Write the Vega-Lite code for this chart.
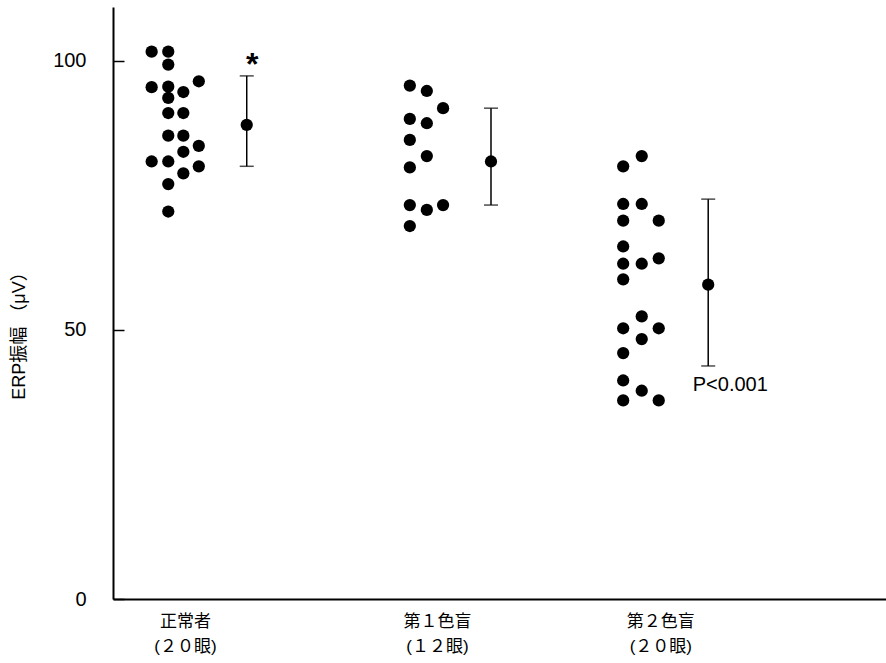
{
  "$schema": "https://vega.github.io/schema/vega-lite/v6.json",
  "width": 773,
  "height": 592,
  "autosize": {"type": "none"},
  "padding": {"left": 113, "top": 7, "right": 0, "bottom": 64},
  "background": "white",
  "config": {
    "view": {"stroke": null},
    "font": "Liberation Sans, Noto Sans CJK JP",
    "axis": {"grid": false, "domainColor": "black", "domainWidth": 2, "tickColor": "black", "labelColor": "black", "titleColor": "black", "labelFont": "Liberation Sans, Noto Sans CJK JP", "titleFont": "Liberation Sans, Noto Sans CJK JP"}
  },
  "datasets": {
    "dots": [
      {"group": "正常者", "pos": 0.50, "value": 101.7},
      {"group": "正常者", "pos": 0.715, "value": 101.7},
      {"group": "正常者", "pos": 0.715, "value": 99.3},
      {"group": "正常者", "pos": 0.50, "value": 95.1},
      {"group": "正常者", "pos": 0.715, "value": 95.2},
      {"group": "正常者", "pos": 0.715, "value": 93.1},
      {"group": "正常者", "pos": 0.91, "value": 94.2},
      {"group": "正常者", "pos": 1.11, "value": 96.2},
      {"group": "正常者", "pos": 0.715, "value": 90.3},
      {"group": "正常者", "pos": 0.91, "value": 90.3},
      {"group": "正常者", "pos": 0.715, "value": 86.1},
      {"group": "正常者", "pos": 0.91, "value": 86.1},
      {"group": "正常者", "pos": 0.91, "value": 83.1},
      {"group": "正常者", "pos": 1.11, "value": 84.2},
      {"group": "正常者", "pos": 0.50, "value": 81.3},
      {"group": "正常者", "pos": 0.715, "value": 81.3},
      {"group": "正常者", "pos": 0.91, "value": 79.1},
      {"group": "正常者", "pos": 1.11, "value": 80.4},
      {"group": "正常者", "pos": 0.715, "value": 77.1},
      {"group": "正常者", "pos": 0.715, "value": 72.0},
      {"group": "第1色盲", "pos": 3.84, "value": 95.4},
      {"group": "第1色盲", "pos": 4.06, "value": 94.4},
      {"group": "第1色盲", "pos": 4.27, "value": 91.2},
      {"group": "第1色盲", "pos": 3.84, "value": 89.2},
      {"group": "第1色盲", "pos": 4.06, "value": 88.4},
      {"group": "第1色盲", "pos": 3.84, "value": 85.3},
      {"group": "第1色盲", "pos": 4.06, "value": 82.3},
      {"group": "第1色盲", "pos": 3.84, "value": 80.2},
      {"group": "第1色盲", "pos": 3.84, "value": 73.2},
      {"group": "第1色盲", "pos": 4.06, "value": 72.3},
      {"group": "第1色盲", "pos": 4.27, "value": 73.2},
      {"group": "第1色盲", "pos": 3.84, "value": 69.3},
      {"group": "第2色盲", "pos": 6.60, "value": 80.4},
      {"group": "第2色盲", "pos": 6.84, "value": 82.3},
      {"group": "第2色盲", "pos": 6.60, "value": 73.4},
      {"group": "第2色盲", "pos": 6.84, "value": 73.4},
      {"group": "第2色盲", "pos": 6.60, "value": 70.3},
      {"group": "第2色盲", "pos": 7.06, "value": 70.3},
      {"group": "第2色盲", "pos": 6.60, "value": 65.5},
      {"group": "第2色盲", "pos": 6.60, "value": 62.3},
      {"group": "第2色盲", "pos": 6.84, "value": 62.3},
      {"group": "第2色盲", "pos": 7.06, "value": 63.3},
      {"group": "第2色盲", "pos": 6.60, "value": 59.4},
      {"group": "第2色盲", "pos": 6.84, "value": 52.5},
      {"group": "第2色盲", "pos": 6.60, "value": 50.3},
      {"group": "第2色盲", "pos": 7.06, "value": 50.3},
      {"group": "第2色盲", "pos": 6.84, "value": 48.3},
      {"group": "第2色盲", "pos": 6.60, "value": 45.7},
      {"group": "第2色盲", "pos": 6.60, "value": 40.6},
      {"group": "第2色盲", "pos": 6.84, "value": 38.7},
      {"group": "第2色盲", "pos": 6.60, "value": 36.9},
      {"group": "第2色盲", "pos": 7.06, "value": 36.9}
    ],
    "stats": [
      {"group": "正常者", "pos": 1.73, "mean": 88.1, "lo": 80.4, "hi": 97.2},
      {"group": "第1色盲", "pos": 4.89, "mean": 81.3, "lo": 73.2, "hi": 91.2},
      {"group": "第2色盲", "pos": 7.70, "mean": 58.4, "lo": 43.3, "hi": 74.3}
    ],
    "star": [{"text": "*", "pos": 1.80, "value": 97.4}],
    "pnote": [{"text": "P<0.001", "pos": 7.50, "value": 39.8}]
  },
  "layer": [
    {
      "data": {"name": "dots"},
      "mark": {"type": "point", "filled": true, "color": "black", "opacity": 1, "size": 150, "shape": "circle"},
      "encoding": {
        "x": {"field": "pos", "type": "quantitative", "scale": {"domain": [0, 10]},
          "axis": {"values": [0.93, 4.19, 7.08], "ticks": false, "title": null, "labelFontSize": 17, "labelPadding": 14, "labelLineHeight": 25,
            "labelExpr": "datum.value < 2 ? ['正常者', '(２０眼)'] : datum.value < 5 ? ['第１色盲', '(１２眼)'] : ['第２色盲', '(２０眼)']"}},
        "y": {"field": "value", "type": "quantitative", "scale": {"domain": [0, 110]},
          "axis": {"values": [0, 50, 100], "tickSize": -11, "tickWidth": 1.5, "labelPadding": 38, "labelFontSize": 20,
            "title": "ERP振幅 （μV）", "titleFontSize": 18, "titleFontWeight": "normal", "titlePadding": 24, "titleY": 324}}
      }
    },
    {
      "data": {"name": "stats"},
      "mark": {"type": "rule", "color": "black", "strokeWidth": 1.5},
      "encoding": {
        "x": {"field": "pos", "type": "quantitative"},
        "y": {"field": "lo", "type": "quantitative"},
        "y2": {"field": "hi"}
      }
    },
    {
      "data": {"name": "stats"},
      "mark": {"type": "tick", "orient": "horizontal", "color": "black", "size": 14, "thickness": 1.5},
      "encoding": {
        "x": {"field": "pos", "type": "quantitative"},
        "y": {"field": "lo", "type": "quantitative"}
      }
    },
    {
      "data": {"name": "stats"},
      "mark": {"type": "tick", "orient": "horizontal", "color": "black", "size": 14, "thickness": 1.5},
      "encoding": {
        "x": {"field": "pos", "type": "quantitative"},
        "y": {"field": "hi", "type": "quantitative"}
      }
    },
    {
      "data": {"name": "stats"},
      "mark": {"type": "point", "filled": true, "color": "black", "opacity": 1, "size": 150, "shape": "circle"},
      "encoding": {
        "x": {"field": "pos", "type": "quantitative"},
        "y": {"field": "mean", "type": "quantitative"}
      }
    },
    {
      "data": {"name": "star"},
      "mark": {"type": "text", "color": "black", "baseline": "alphabetic", "align": "center", "fontSize": 32, "fontWeight": "bold"},
      "encoding": {
        "x": {"field": "pos", "type": "quantitative"},
        "y": {"field": "value", "type": "quantitative"},
        "text": {"field": "text"}
      }
    },
    {
      "data": {"name": "pnote"},
      "mark": {"type": "text", "color": "black", "baseline": "middle", "align": "left", "fontSize": 20},
      "encoding": {
        "x": {"field": "pos", "type": "quantitative"},
        "y": {"field": "value", "type": "quantitative"},
        "text": {"field": "text"}
      }
    }
  ]
}
